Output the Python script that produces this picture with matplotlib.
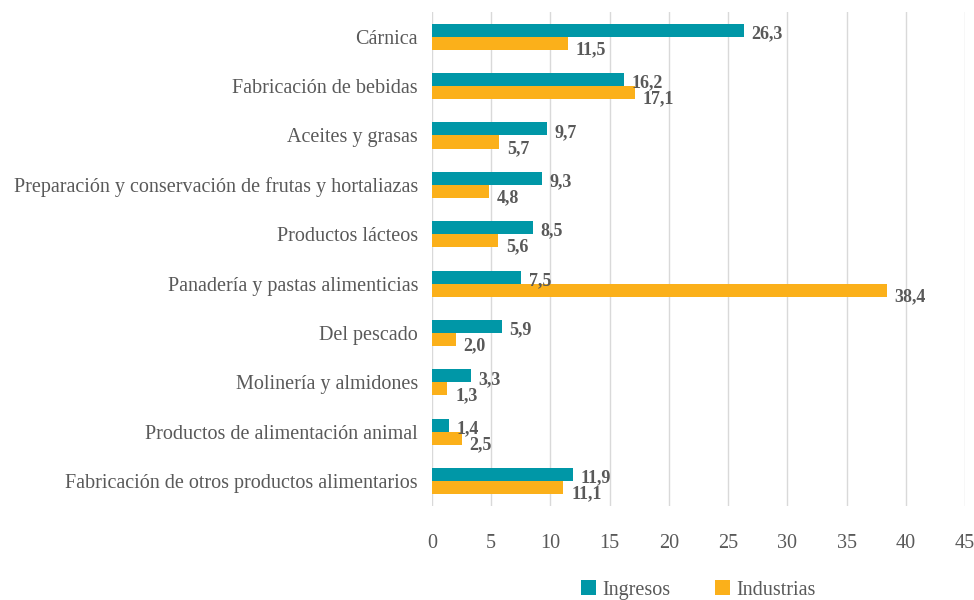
import matplotlib.pyplot as plt
import numpy as np

# data
categorias = [
    "Cárnica",
    "Fabricación de bebidas",
    "Aceites y grasas",
    "Preparación y conservación de frutas y hortaliazas",
    "Productos lácteos",
    "Panadería y pastas alimenticias",
    "Del pescado",
    "Molinería y almidones",
    "Productos de alimentación animal",
    "Fabricación de otros productos alimentarios",
]
ingresos = [26.3, 16.2, 9.7, 9.3, 8.5, 7.5, 5.9, 3.3, 1.4, 11.9]
industrias = [11.5, 17.1, 5.7, 4.8, 5.6, 38.4, 2.0, 1.3, 2.5, 11.1]
ticks_x = [0, 5, 10, 15, 20, 25, 30, 35, 40, 45]

teal = "#0097A7"
naranja = "#FBB01A"
gris = "#595959"

plt.rcParams['font.family'] = ['Liberation Serif', 'DejaVu Serif']

fig = plt.figure(figsize=(9.74, 6.0), dpi=100)
ax = fig.add_axes([0.4435, 0.157, 0.5473, 0.823])

y = np.arange(len(categorias))
h = 0.265
ax.barh(y - h / 2, ingresos, height=h, color=teal, label="Ingresos", zorder=3)
ax.barh(y + h / 2, industrias, height=h, color=naranja, label="Industrias", zorder=3)

# value labels
for yi, v in zip(y, ingresos):
    ax.text(v + 0.65, yi - h / 2 + 0.07, f"{v:.1f}".replace(".", ","), va="center", ha="left",
            fontsize=13, fontweight="bold", color=gris)
for yi, v in zip(y, industrias):
    ax.text(v + 0.65, yi + h / 2 + 0.13, f"{v:.1f}".replace(".", ","), va="center", ha="left",
            fontsize=13, fontweight="bold", color=gris)

ax.set_ylim(len(categorias) - 0.5, -0.5)
ax.set_xlim(0, 45)
ax.set_yticks(y)
ax.set_yticklabels(categorias, fontsize=14.5, color=gris)
ax.set_xticks(ticks_x)
ax.set_xticklabels([str(t) for t in ticks_x], fontsize=14.5, color=gris)
ax.tick_params(axis="both", length=0)
ax.tick_params(axis="x", pad=20)
ax.tick_params(axis="y", pad=10)

ax.grid(axis="x", color="#d9d9d9", linewidth=1, zorder=0)
for s in ax.spines.values():
    s.set_visible(False)

leg = fig.legend(loc="lower center", bbox_to_anchor=(0.717, -0.03), ncol=2, frameon=False,
                 fontsize=14.5, labelcolor=gris, handlelength=0.75, handleheight=0.75,
                 handletextpad=0.3, columnspacing=2.2)
for t in leg.get_texts():
    t.set_family("Liberation Serif")

fig.savefig("out.png", dpi=100)
